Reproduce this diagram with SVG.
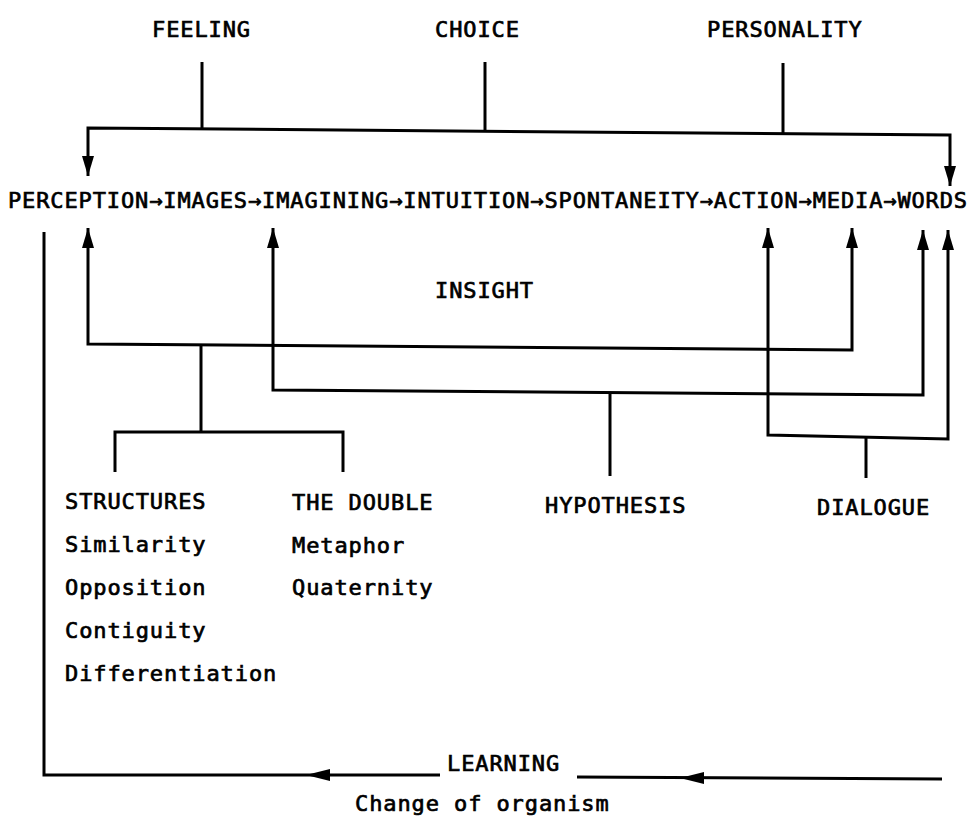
<svg xmlns="http://www.w3.org/2000/svg" width="971" height="820" viewBox="0 0 971 820">
<defs>
<style>
text{font-family:"DejaVu Sans Mono","Liberation Mono",monospace;font-size:22px;fill:#000;stroke:#000;stroke-width:0.7px;letter-spacing:0.9px}
.ln{fill:none;stroke:#000;stroke-width:3;stroke-linejoin:miter;stroke-linecap:butt}
.ah{fill:#000;stroke:none}
</style>
<marker id="arr" viewBox="0 0 20 12" refX="20" refY="6" markerWidth="20" markerHeight="12" markerUnits="userSpaceOnUse" orient="auto-start-reverse">
<path d="M0 0 L20 6 L0 12 Z" fill="#000"/>
</marker>
</defs>
<rect width="971" height="820" fill="#fff"/>
<g id="connectors">
<path class="ln" d="M202 62 V129"/>
<path class="ln" d="M485 62 V131"/>
<path class="ln" d="M783 63 V133"/>
<path class="ln" d="M88 176 V128 L950 135 V186" marker-start="url(#arr)" marker-end="url(#arr)"/>
<path class="ln" d="M88 228 V344 L852 350 V228" marker-start="url(#arr)" marker-end="url(#arr)"/>
<path class="ln" d="M273 228 V390 L923 395 V230" marker-start="url(#arr)" marker-end="url(#arr)"/>
<path class="ln" d="M201 345 V432"/>
<path class="ln" d="M115 472 V432 H343 V472"/>
<path class="ln" d="M610 393 V476"/>
<path class="ln" d="M768 228 V435 L948 439 V230" marker-start="url(#arr)" marker-end="url(#arr)"/>
<path class="ln" d="M866 437 V478"/>
<path class="ln" d="M44 232 V775 H440"/>
<path class="ln" d="M577 777 L942 779"/>
<polygon class="ah" points="306,775 330,769 330,781"/>
<polygon class="ah" points="680,778 704,772 704,784"/>
</g>
<g id="feeling"><text x="152" y="37">FEELING</text></g>
<g id="choice"><text x="435" y="37">CHOICE</text></g>
<g id="personality"><text x="707" y="37">PERSONALITY</text></g>
<g id="sequence"><text x="8" y="208" textLength="960" lengthAdjust="spacing">PERCEPTION→IMAGES→IMAGINING→INTUITION→SPONTANEITY→ACTION→MEDIA→WORDS</text></g>
<g id="insight"><text x="435" y="298">INSIGHT</text></g>
<g id="structures">
<text x="65" y="509">STRUCTURES</text>
<text x="65" y="552">Similarity</text>
<text x="65" y="595">Opposition</text>
<text x="65" y="638">Contiguity</text>
<text x="65" y="681">Differentiation</text>
</g>
<g id="double">
<text x="292" y="510">THE DOUBLE</text>
<text x="292" y="553">Metaphor</text>
<text x="292" y="595">Quaternity</text>
</g>
<g id="hypothesis"><text x="545" y="513">HYPOTHESIS</text></g>
<g id="dialogue"><text x="817" y="515">DIALOGUE</text></g>
<g id="learning">
<text x="447" y="771">LEARNING</text>
<text x="355" y="811">Change of organism</text>
</g>
</svg>
